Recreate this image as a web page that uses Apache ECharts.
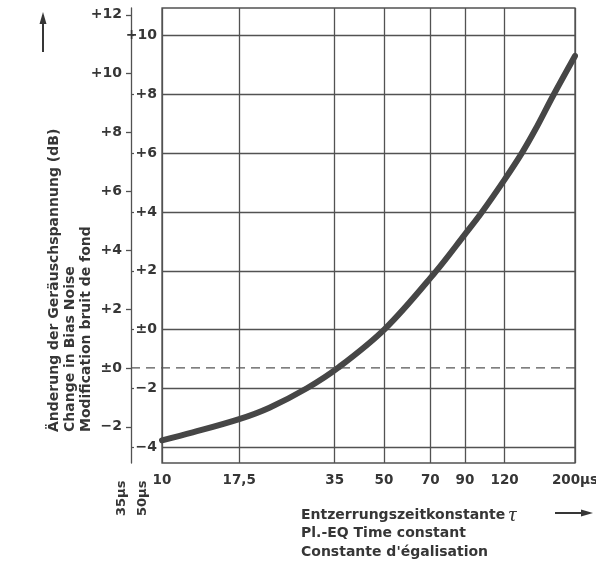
<!DOCTYPE html>
<html><head><meta charset="utf-8">
<script src="https://cdn.jsdelivr.net/npm/echarts@6/dist/echarts.min.js"></script>
<style>html,body{margin:0;padding:0;background:#fff}#c{width:596px;height:561px}</style>
</head><body><div id="c"></div>
<script>
// ---- data ----
const tauTicks = [10, 17.5, 35, 50, 70, 90, 120, 200];
const tauLabels = ['10', '17,5', '35', '50', '70', '90', '120', '200µs'];
const innerTicks = [-4, -2, 0, 2, 4, 6, 8, 10];      // scale referenced to 50 µs
const outerTicks = [-2, 0, 2, 4, 6, 8, 10, 12];      // scale referenced to 35 µs
const innerRange = [-4.53, 10.93];
const outerShift = 1.3;                               // outer = inner + shift
const curveTau = [10, 12.5, 17.5, 21.8, 28.6, 35.9, 50.4, 72.4, 90, 101.9, 120, 136, 150, 170.6, 200];
const curveDb  = [-3.76, -3.49, -3.04, -2.65, -1.99, -1.29, 0.03, 1.94, 3.24, 4.0, 5.1, 6.0, 6.8, 7.95, 9.3];
const refLineOuter = 0;

const INK = '#363636';
const GRID = '#525252';
const FONT = '"DejaVu Sans", sans-serif';

function dbFmt(v) {
  const r = Math.round(v);
  if (r > 0) return '+' + r;
  if (r === 0) return '±0';
  return '−' + Math.abs(r);
}
function tauFmt(v) {
  for (let i = 0; i < tauTicks.length; i++) if (Math.abs(tauTicks[i] - v) < 1e-6 * tauTicks[i] + 1e-6) return tauLabels[i];
  return '';
}

const chart = echarts.init(document.getElementById('c'), null, {renderer: 'canvas'});
const lbl = {color: INK, fontFamily: FONT, fontWeight: 'bold', fontSize: 14};

chart.setOption({
  animation: false,
  backgroundColor: '#fff',
  grid: {left: 162, right: 21, top: 8, bottom: 98, show: true, borderColor: GRID, borderWidth: 1.3, containLabel: false, outerBoundsMode: 'none'},
  xAxis: {
    type: 'log', logBase: 10, min: 10, max: 200,
    axisLine: {show: false},
    axisTick: {show: false, customValues: tauTicks},
    axisLabel: Object.assign({}, lbl, {fontSize: 13.5, customValues: tauTicks, margin: 10, formatter: tauFmt}),
    splitLine: {show: true, lineStyle: {color: GRID, width: 1.3}}
  },
  yAxis: [
    {
      type: 'value', position: 'left', min: innerRange[0], max: innerRange[1],
      axisLine: {show: false},
      axisTick: {show: false, customValues: innerTicks},
      axisLabel: Object.assign({}, lbl, {customValues: innerTicks, margin: 5, formatter: dbFmt}),
      splitLine: {show: true, lineStyle: {color: GRID, width: 1.3}}
    },
    {
      type: 'value', position: 'left', offset: 31,
      min: innerRange[0] + outerShift, max: innerRange[1] + outerShift,
      axisLine: {show: true, lineStyle: {color: GRID, width: 1.3}},
      axisTick: {show: true, inside: false, length: 5, customValues: outerTicks, lineStyle: {color: GRID, width: 1.3}},
      axisLabel: Object.assign({}, lbl, {customValues: outerTicks, margin: 9, formatter: dbFmt}),
      splitLine: {show: false}
    },
    {
      type: 'value', position: 'left', offset: 31, min: innerRange[0], max: innerRange[1],
      axisLine: {show: false},
      axisTick: {show: true, inside: true, length: 3, customValues: innerTicks, lineStyle: {color: GRID, width: 1.2}},
      axisLabel: {show: false},
      splitLine: {show: false}
    }
  ],
  series: [
    {
      type: 'line', xAxisIndex: 0, yAxisIndex: 0,
      data: curveTau.map((t, i) => [t, curveDb[i]]),
      smooth: 0.35, showSymbol: false, symbol: 'none',
      lineStyle: {color: '#464646', width: 6, cap: 'round'}
    },
    {type: 'line', yAxisIndex: 1, data: [], showSymbol: false},
    {type: 'line', yAxisIndex: 2, data: [], showSymbol: false}
  ]
});

// reference dashed line at outer ±0, from outer axis line to right edge
const yRef = chart.convertToPixel({yAxisIndex: 1}, refLineOuter);
const xLeftPlot = chart.convertToPixel({xAxisIndex: 0}, 10);
const xRightPlot = chart.convertToPixel({xAxisIndex: 0}, 200);
const xOuterAxis = xLeftPlot - 31;

const textStyle = (txt, extra) => Object.assign({text: txt, font: 'bold 14px ' + FONT, fill: INK}, extra || {});

chart.setOption({
  graphic: [
    {type: 'line', silent: true, z: 5,
     shape: {x1: xOuterAxis, y1: yRef, x2: xRightPlot, y2: yRef},
     style: {stroke: '#555', lineWidth: 1.3, lineDash: [9, 6]}},
    // y title
    {type: 'text', x: 46, y: 432, rotation: Math.PI / 2,
     style: textStyle('Änderung der Geräuschspannung (dB)\nChange in Bias Noise\nModification bruit de fond',
       {align: 'left', verticalAlign: 'top', lineHeight: 16})},
    // up arrow
    {type: 'line', shape: {x1: 43, y1: 52, x2: 43, y2: 20}, style: {stroke: INK, lineWidth: 2}},
    {type: 'polygon', shape: {points: [[43, 12], [39.5, 24], [46.5, 24]]}, style: {fill: INK}},
    // reference time constants for the two scales
    {type: 'text', x: 115, y: 516, rotation: Math.PI / 2,
     style: textStyle('35µs', {align: 'left', verticalAlign: 'top', font: 'bold 13px ' + FONT})},
    {type: 'text', x: 136, y: 516, rotation: Math.PI / 2,
     style: textStyle('50µs', {align: 'left', verticalAlign: 'top', font: 'bold 13px ' + FONT})},
    // x title
    {type: 'text', x: 301, y: 515,
     style: {text: '{a|Entzerrungszeitkonstante} {t|τ}', verticalAlign: 'middle', align: 'left',
       rich: {a: {font: 'bold 14px ' + FONT, fill: INK},
              t: {font: 'italic 22px "Liberation Serif", serif', fill: INK}}}},
    {type: 'text', x: 301, y: 533, style: textStyle('Pl.-EQ Time constant', {verticalAlign: 'middle'})},
    {type: 'text', x: 301, y: 552, style: textStyle('Constante d\'égalisation', {verticalAlign: 'middle'})},
    // right arrow
    {type: 'line', shape: {x1: 555, y1: 513, x2: 584, y2: 513}, style: {stroke: INK, lineWidth: 2}},
    {type: 'polygon', shape: {points: [[593, 513], [581, 509.5], [581, 516.5]]}, style: {fill: INK}}
  ]
});
</script></body></html>
